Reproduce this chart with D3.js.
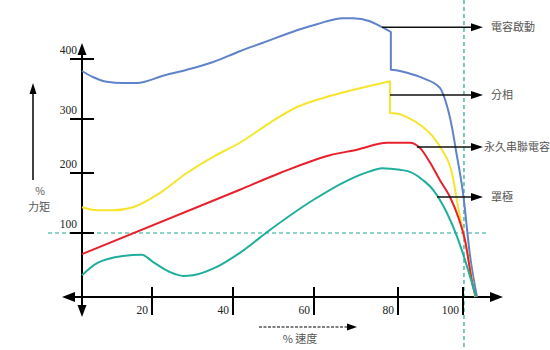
<!DOCTYPE html>
<html>
<head>
<meta charset="utf-8">
<script src="https://cdn.jsdelivr.net/npm/d3@7"></script>
<style>
body { margin: 0; background: #fff; }
</style>
</head>
<body>
<div class="chart"></div>
<script>
var w = 550;
var h = 350;

// speed (%) / torque (%)
var capStartSpeed  = [0, 3.1, 7.1, 11.7, 15.7, 22.7, 28.6, 35.1, 41.7, 47.4, 55.8, 60.7, 66.9, 69.3, 73.3, 76.2, 78.3, 78.3, 80.6, 82.8, 87.7, 92.9, 94.5, 96.6, 97.8, 100, 102.2, 104.3];
var capStartTorque = [380, 370, 362, 360, 360, 372, 382, 395, 413, 427, 448, 458, 468, 468, 463, 453, 445, 382, 380, 377, 368, 352, 332, 285, 243, 167, 63, 0];

var splitSpeed  = [0, 4.3, 8.9, 14.6, 22, 28.6, 35.1, 41.7, 49.1, 55.8, 63.1, 70.2, 78.1, 78.1, 80.6, 82.8, 87.7, 90.8, 93.5, 96.6, 98.5, 101.2, 103.7];
var splitTorque = [143, 138, 138, 143, 167, 200, 230, 256, 293, 320, 337, 350, 363, 310, 308, 303, 285, 267, 243, 200, 143, 73, 0];

var pscSpeed  = [0, 41.7, 51.6, 63.8, 70.2, 77.4, 80.6, 83.7, 86.8, 89.8, 92.9, 96, 98.5, 100.6, 103.1, 104];
var pscTorque = [67, 172, 200, 233, 243, 256, 256, 256, 246, 220, 188, 160, 127, 89, 16, 0];

var shadedSpeed  = [0, 4.3, 11.7, 17.1, 20.2, 24.4, 27.7, 30.1, 36, 41.7, 49.1, 59.8, 69.3, 72.9, 76.2, 80.6, 83.7, 87.7, 90.8, 95.1, 98.2, 100.6, 103.1, 104];
var shadedTorque = [34, 53, 64, 66, 55, 39, 33, 34, 47, 69, 105, 155, 192, 202, 209, 206, 202, 188, 172, 133, 94, 58, 16, 0];

var xTicks = [20, 40, 60, 80, 100];
var yTicks = [100, 200, 300, 400];

var seriesNames  = ["電容啟動", "分相", "永久串聯電容", "罩極"];
var labelSpeed   = [76.2, 78.1, 85.8, 92];
var labelTorque  = [453, 340, 248, 160];

var colors = ["#5f82c9", "#f6e52c", "#e8202b", "#1fae9d"];

// the drawing is hand-made, so the tick spacing is uneven
var x = d3.scaleLinear()
          .domain([0, 20, 40, 60, 80, 100])
          .range([82, 152, 233, 314, 398, 463]);

var y = d3.scaleLinear()
          .domain([0, 100, 200, 300, 400])
          .range([297, 233, 173, 119, 59]);

var svg = d3.select(".chart")
            .append("svg")
            .attr("width", w)
            .attr("height", h);

function arrowHead(tx, ty, dir, len, half) {
    var pts;
    if (dir == "right") pts = [[tx, ty], [tx - len, ty - half], [tx - len, ty + half]];
    if (dir == "left")  pts = [[tx, ty], [tx + len, ty - half], [tx + len, ty + half]];
    if (dir == "up")    pts = [[tx, ty], [tx - half, ty + len], [tx + half, ty + len]];
    if (dir == "down")  pts = [[tx, ty], [tx - half, ty - len], [tx + half, ty - len]];
    svg.append("polygon")
       .attr("points", pts.map(function(p) { return p.join(","); }).join(" "))
       .attr("fill", "#000");
}

// reference dashed lines
svg.append("line")
   .attr("x1", 48).attr("x2", 488)
   .attr("y1", y(100)).attr("y2", y(100))
   .attr("stroke", "#1fa596")
   .attr("stroke-width", 1.2)
   .attr("stroke-dasharray", "4,3");

svg.append("line")
   .attr("x1", x(100.3)).attr("x2", x(100.3))
   .attr("y1", 0).attr("y2", h)
   .attr("stroke", "#1fa596")
   .attr("stroke-width", 1.2)
   .attr("stroke-dasharray", "4,3");

// axes
var axisY = x(0);
var axisX = y(0);

svg.append("line")
   .attr("x1", axisY).attr("x2", axisY)
   .attr("y1", 52).attr("y2", 308)
   .attr("stroke", "#000").attr("stroke-width", 2);
arrowHead(axisY, 43, "up", 12, 4.5);
arrowHead(axisY, 317, "down", 12, 4.5);

svg.append("line")
   .attr("x1", 72).attr("x2", 494)
   .attr("y1", axisX).attr("y2", axisX)
   .attr("stroke", "#000").attr("stroke-width", 2);
arrowHead(62, axisX, "left", 13, 5);
arrowHead(503, axisX, "right", 13, 5);

xTicks.forEach(function(t) {
    svg.append("line")
       .attr("x1", x(t)).attr("x2", x(t))
       .attr("y1", axisX - 10).attr("y2", axisX + 18)
       .attr("stroke", "#000").attr("stroke-width", 2);
    svg.append("text")
       .attr("x", x(t) - 4)
       .attr("y", axisX + 17)
       .attr("text-anchor", "end")
       .style("font-family", "'Liberation Serif', serif")
       .style("font-size", "11.5px")
       .attr("fill", "#222")
       .text(t);
});

yTicks.forEach(function(t) {
    svg.append("line")
       .attr("x1", axisY - 12).attr("x2", axisY + 12)
       .attr("y1", y(t)).attr("y2", y(t))
       .attr("stroke", "#000").attr("stroke-width", 2);
    svg.append("text")
       .attr("x", axisY - 5)
       .attr("y", y(t) - 5)
       .attr("text-anchor", "end")
       .style("font-family", "'Liberation Serif', serif")
       .style("font-size", "11.5px")
       .attr("fill", "#222")
       .text(t);
});

// axis titles
svg.append("line")
   .attr("x1", 33).attr("x2", 33)
   .attr("y1", 90).attr("y2", 180)
   .attr("stroke", "#000").attr("stroke-width", 1.5);
arrowHead(33, 83, "up", 11, 3.5);

svg.append("text")
   .attr("x", 40).attr("y", 195)
   .attr("text-anchor", "middle")
   .style("font-family", "'Noto Sans CJK TC', sans-serif")
   .style("font-size", "10.5px")
   .attr("fill", "#555")
   .text("%");
svg.append("text")
   .attr("x", 39).attr("y", 211)
   .attr("text-anchor", "middle")
   .style("font-family", "'Noto Sans CJK TC', sans-serif")
   .style("font-size", "11px")
   .attr("fill", "#555")
   .text("力矩");

svg.append("line")
   .attr("x1", 259).attr("x2", 349)
   .attr("y1", 327).attr("y2", 327)
   .attr("stroke", "#000").attr("stroke-width", 1.2)
   .attr("stroke-dasharray", "3,1.5");
arrowHead(357, 327, "right", 10, 3.5);

svg.append("text")
   .attr("x", 300).attr("y", 343)
   .attr("text-anchor", "middle")
   .style("font-family", "'Noto Sans CJK TC', sans-serif")
   .style("font-size", "11px")
   .attr("fill", "#555")
   .text("% 速度");

// curves: smooth pieces, joined by a straight drop where the speed repeats
var line = d3.line()
             .curve(d3.curveMonotoneX)
             .x(function(d) { return x(d[0]); })
             .y(function(d) { return y(d[1]); });

function curvePath(pts) {
    var pieces = [[pts[0]]];
    for (let i = 1; i < pts.length; i++) {
        if (pts[i][0] == pts[i - 1][0]) pieces.push([]);
        pieces[pieces.length - 1].push(pts[i]);
    }
    return pieces.map(function(p, i) {
        var d = line(p);
        return i == 0 ? d : "L" + d.slice(1);
    }).join("");
}

var series = [
    d3.zip(capStartSpeed, capStartTorque),
    d3.zip(splitSpeed, splitTorque),
    d3.zip(pscSpeed, pscTorque),
    d3.zip(shadedSpeed, shadedTorque)
];

svg.selectAll("path.curve")
   .data(series)
   .enter()
   .append("path")
   .attr("class", "curve")
   .attr("d", curvePath)
   .attr("fill", "none")
   .attr("stroke", function(d, i) { return colors[i]; })
   .attr("stroke-width", 2)
   .attr("stroke-linejoin", "round");

// legend arrows pointing at the curves
var tipX = 483;
seriesNames.forEach(function(name, i) {
    var sx = x(labelSpeed[i]);
    var sy = y(labelTorque[i]);
    svg.append("line")
       .attr("x1", sx).attr("x2", tipX - 8)
       .attr("y1", sy).attr("y2", sy)
       .attr("stroke", "#111").attr("stroke-width", 1.5);
    arrowHead(tipX, sy, "right", 12, 4);
    svg.append("text")
       .attr("x", name.length > 4 ? tipX + 1 : tipX + 8)
       .attr("y", sy)
       .attr("dy", "0.35em")
       .style("font-family", "'Noto Sans CJK TC', sans-serif")
       .style("font-size", "11px")
       .attr("fill", "#555")
       .text(name);
});
</script>
</body>
</html>
